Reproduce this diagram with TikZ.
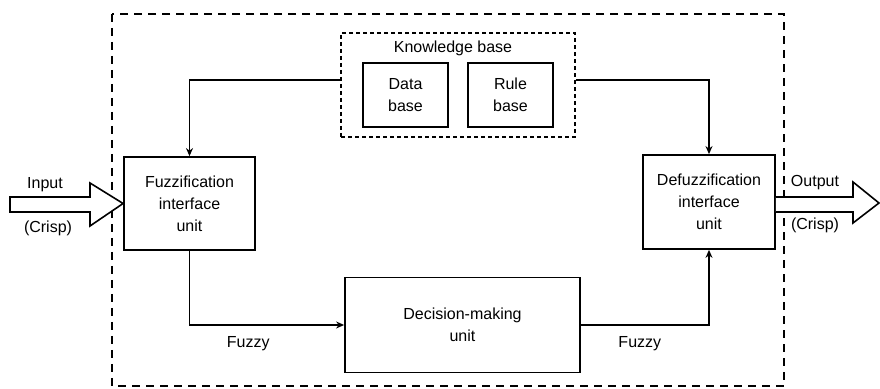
\documentclass[tikz,border=0pt]{standalone}
\usepackage{fontspec}
\setmainfont{Liberation Sans}
\usetikzlibrary{arrows.meta}

\begin{document}
\begin{tikzpicture}[x=0.5pt,y=-0.5pt,
		font=\fontsize{8}{11}\selectfont,
		unitbox/.style={draw, line width=0.9pt, align=center, inner sep=0pt},
		flow/.style={line width=0.6pt, -{Stealth[length=4pt,width=3.5pt]}},
		bigarrow/.style={draw, line width=0.8pt, fill=white}]
		\useasboundingbox (0,0) rectangle (880,389);
		% outer system boundary
		\draw[line width=0.9pt, dash pattern=on 4pt off 3pt] (112,14) rectangle (784,386);
		% knowledge base
		\node[draw, line width=0.9pt, dash pattern=on 2pt off 1.5pt, minimum width=117pt, minimum height=52pt] (kb) at (458,85) {};
		\node (kbtitle) at (453,48) {Knowledge base};
		\node[unitbox, minimum width=42.5pt, minimum height=32pt] (data) at (405.5,95) {Data\\base};
		\node[unitbox, minimum width=42.5pt, minimum height=32pt] (rule) at (510.5,95) {Rule\\base};
		% units
		\node[unitbox, minimum width=65.5pt, minimum height=46.5pt] (fuzz) at (189.5,203.5) {Fuzzification\\interface\\unit};
		\node[unitbox, minimum width=66pt, minimum height=47pt] (defuzz) at (709,202) {Defuzzification\\interface\\unit};
		\node[unitbox, minimum width=117.5pt, minimum height=47.5pt] (dec) at (462.5,325) {Decision-making\\unit};
		% connections
		\draw[flow] ([yshift=2.5pt]kb.west) -| (fuzz.north);
		\draw[flow] ([yshift=2.5pt]kb.east) -| (defuzz.north);
		\draw[flow] (fuzz.south) |- (dec.west) node[pos=0.69, below=2pt] (fzin) {Fuzzy};
		\draw[flow] (dec.east) -| (defuzz.south) node[pos=0.23, below=2pt] (fzout) {Fuzzy};
		% crisp input and output
		\draw[bigarrow] (10,197) -- (90,197) -- (90,183) -- (fuzz.west) -- (90,226) -- (90,212) -- (10,212) -- cycle;
		\draw[bigarrow] (defuzz.east |- 0,197) -- (853,197) -- (853,182) -- (879,203) -- (853,223) -- (853,212) -- (defuzz.east |- 0,212);
		\node (inlbl) at (45,185) {Input};
		\node (incrisp) at (48,228) {(Crisp)};
		\node (outlbl) at (815,183) {Output};
		\node (outcrisp) at (815,225) {(Crisp)};
	\end{tikzpicture}
\end{document}
